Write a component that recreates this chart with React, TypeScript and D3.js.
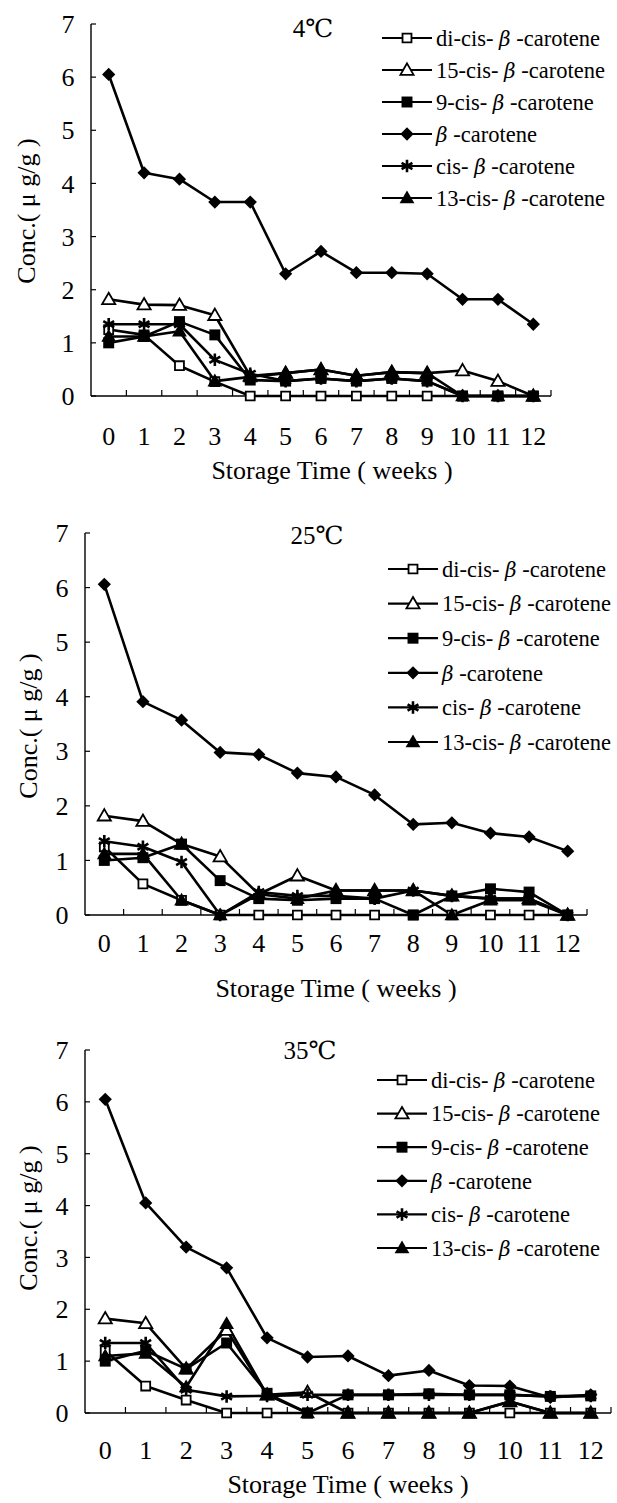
import React from 'react';
import * as d3 from 'd3';

const weeks = ['0', '1', '2', '3', '4', '5', '6', '7', '8', '9', '10', '11', '12'];
const yTicks = [0, 1, 2, 3, 4, 5, 6, 7];
const seriesPrefix = ['di-cis- ', '15-cis- ', '9-cis- ', ' ', 'cis- ', '13-cis- '];
const markerKinds = ['sqOpen', 'triOpen', 'sqFill', 'diamond', 'star', 'triFill'];
const panelTitles = ['4℃', '25℃', '35℃'];

// 4 °C
const diCis4 = [1.25, 1.15, 0.57, 0.27, 0, 0, 0, 0, 0, 0, 0, 0, 0];
const cis15_4 = [1.82, 1.72, 1.71, 1.52, 0.38, 0.43, 0.5, 0.38, 0.45, 0.43, 0.48, 0.28, 0];
const cis9_4 = [1.0, 1.12, 1.4, 1.15, 0.3, 0.28, 0.33, 0.28, 0.33, 0.28, 0, 0, 0];
const beta4 = [6.05, 4.2, 4.08, 3.65, 3.65, 2.3, 2.72, 2.32, 2.32, 2.3, 1.82, 1.82, 1.35];
const cis4 = [1.35, 1.35, 1.35, 0.68, 0.42, 0.28, 0.33, 0.28, 0.33, 0.28, 0, 0, 0];
const cis13_4 = [1.12, 1.12, 1.22, 0.28, 0.36, 0.43, 0.5, 0.38, 0.45, 0.43, 0, 0, 0];

// 25 °C
const diCis25 = [1.25, 0.57, 0.27, 0, 0, 0, 0, 0, 0, 0, 0, 0, 0];
const cis15_25 = [1.82, 1.72, 1.3, 1.07, 0.38, 0.72, 0.45, 0.45, 0.45, 0.35, 0.3, 0.3, 0];
const cis9_25 = [1.0, 1.05, 1.3, 0.63, 0.3, 0.27, 0.3, 0.3, 0, 0.35, 0.48, 0.42, 0];
const beta25 = [6.06, 3.91, 3.57, 2.98, 2.94, 2.6, 2.53, 2.2, 1.66, 1.69, 1.5, 1.43, 1.17];
const cis25 = [1.35, 1.25, 0.97, 0, 0.42, 0.35, 0.35, 0.3, 0.45, 0.35, 0.3, 0.3, 0];
const cis13_25 = [1.12, 1.12, 0.27, 0, 0.38, 0.3, 0.45, 0.45, 0.45, 0, 0.27, 0.27, 0];

// 35 °C
const diCis35 = [1.2, 0.52, 0.25, 0, 0, 0, 0, 0, 0, 0, 0, 0, 0];
const cis15_35 = [1.82, 1.73, 0.85, 1.6, 0.35, 0.4, 0, 0, 0, 0, 0.22, 0, 0];
const cis9_35 = [1.0, 1.2, 0.85, 1.35, 0.38, 0, 0.35, 0.35, 0.37, 0.35, 0.35, 0.32, 0.33];
const beta35 = [6.05, 4.05, 3.2, 2.8, 1.45, 1.08, 1.1, 0.72, 0.82, 0.53, 0.52, 0.3, 0.35];
const cis35 = [1.35, 1.35, 0.45, 0.32, 0.33, 0.35, 0.35, 0.35, 0.35, 0.35, 0.35, 0.32, 0.33];
const cis13_35 = [1.1, 1.15, 0.5, 1.72, 0.35, 0, 0, 0, 0, 0, 0.22, 0, 0];

const panelData = [
  [diCis4, cis15_4, cis9_4, beta4, cis4, cis13_4],
  [diCis25, cis15_25, cis9_25, beta25, cis25, cis13_25],
  [diCis35, cis15_35, cis9_35, beta35, cis35, cis13_35],
];

const layouts = [
  { left: 91, right: 551, top: 24, bottom: 396, title: [313, 28], legX: 382, legY: 38, legStep: 32, yLab: [26, 211], tickY: 436, xTitle: [332, 470] },
  { left: 85, right: 587, top: 533, bottom: 915, title: [317, 535], legX: 388, legY: 569, legStep: 34.6, yLab: [28, 726], tickY: 943, xTitle: [336, 988] },
  { left: 85, right: 611, top: 1050, bottom: 1413, title: [310, 1050], legX: 377, legY: 1080, legStep: 33.6, yLab: [28, 1218], tickY: 1450, xTitle: [348, 1484] },
];

const FONT = '"Liberation Serif", "DejaVu Serif", serif';

function Marker({ kind, x, y }: { kind: string; x: number; y: number }) {
  const t = `translate(${x},${y})`;
  if (kind === 'sqOpen') {
    return <path transform={t} d={d3.symbol(d3.symbolSquare, 80)()!} fill="#fff" stroke="#000" strokeWidth={1.8} />;
  }
  if (kind === 'sqFill') {
    return <path transform={t} d={d3.symbol(d3.symbolSquare, 120)()!} fill="#000" />;
  }
  if (kind === 'triOpen') {
    return <path transform={`${t} translate(0,1)`} d={d3.symbol(d3.symbolTriangle, 75)()!} fill="#fff" stroke="#000" strokeWidth={1.8} />;
  }
  if (kind === 'triFill') {
    return <path transform={`${t} translate(0,1)`} d={d3.symbol(d3.symbolTriangle, 95)()!} fill="#000" />;
  }
  if (kind === 'diamond') {
    return <path transform={`${t} rotate(45)`} d={d3.symbol(d3.symbolSquare, 88)()!} fill="#000" />;
  }
  // asterisk
  return <path transform={t} d={d3.symbol(d3.symbolAsterisk, 110)()!} fill="none" stroke="#000" strokeWidth={2.6} />;
}

function Panel({ idx }: { idx: number }) {
  const L = layouts[idx];
  const data = panelData[idx];
  const x = d3.scaleBand<string>().domain(weeks).range([L.left, L.right]).padding(0);
  const y = d3.scaleLinear().domain([0, 7]).range([L.bottom, L.top]);
  const cx = (w: string) => (x(w) as number) + x.bandwidth() / 2;
  const line = d3
    .line<number>()
    .x((_, i) => cx(weeks[i]))
    .y((d) => y(d));
  const boundaries = weeks.map((w) => x(w) as number).concat([L.right]);

  return (
    <g>
      {/* axes */}
      <line x1={L.left} x2={L.left} y1={y(7)} y2={y(0)} stroke="#000" strokeWidth={1.4} />
      <line x1={L.left} x2={L.right} y1={y(0)} y2={y(0)} stroke="#000" strokeWidth={1.4} />
      {yTicks.map((v) => (
        <g key={v}>
          <line x1={L.left} x2={L.left + 5} y1={y(v)} y2={y(v)} stroke="#000" strokeWidth={1.2} />
          <text x={L.left - 23} y={y(v)} dy="0.35em" textAnchor="middle" fontFamily={FONT} fontSize={26}>
            {v}
          </text>
        </g>
      ))}
      {boundaries.slice(1).map((bx, i) => (
        <line key={i} x1={bx} x2={bx} y1={y(0)} y2={y(0) - 6} stroke="#000" strokeWidth={1.2} />
      ))}
      {weeks.map((w) => (
        <text key={w} x={cx(w)} y={L.tickY} dy="0.35em" textAnchor="middle" fontFamily={FONT} fontSize={26}>
          {w}
        </text>
      ))}
      <text x={L.xTitle[0]} y={L.xTitle[1]} dy="0.35em" textAnchor="middle" fontFamily={FONT} fontSize={26}>
        Storage Time ( weeks )
      </text>
      <text
        transform={`translate(${L.yLab[0]},${L.yLab[1]}) rotate(-90)`}
        dy="0.35em"
        textAnchor="middle"
        fontFamily={FONT}
        fontSize={26}
      >
        Conc.( μ g/g )
      </text>
      <text x={L.title[0]} y={L.title[1]} dy="0.35em" textAnchor="middle" fontFamily={FONT} fontSize={25}>
        {panelTitles[idx]}
      </text>

      {/* series */}
      {data.map((s, si) => (
        <path key={'l' + si} d={line(s)!} fill="none" stroke="#000" strokeWidth={2.6} strokeLinejoin="round" />
      ))}
      {data.map((s, si) =>
        s.map((v, i) => <Marker key={si + '-' + i} kind={markerKinds[si]} x={cx(weeks[i])} y={y(v)} />)
      )}

      {/* legend */}
      {seriesPrefix.map((p, si) => {
        const ly = L.legY + si * L.legStep;
        return (
          <g key={'lg' + si}>
            <line x1={L.legX} x2={L.legX + 50} y1={ly} y2={ly} stroke="#000" strokeWidth={2.2} />
            <Marker kind={markerKinds[si]} x={L.legX + 25} y={ly} />
            <text x={L.legX + 54} y={ly} dy="0.35em" fontFamily={FONT} fontSize={22.5}>
              {p}
              <tspan fontStyle="italic" fontFamily='"DejaVu Serif", serif' fontSize={20}>β</tspan>
              {' -carotene'}
            </text>
          </g>
        );
      })}
    </g>
  );
}

export default function App() {
  return (
    <svg
      width={617}
      height={1503}
      style={{ position: 'absolute', left: 0, top: 0, background: '#fff' }}
    >
      <rect x={0} y={0} width={617} height={1503} fill="#fff" />
      {[0, 1, 2].map((i) => (
        <Panel key={i} idx={i} />
      ))}
    </svg>
  );
}
